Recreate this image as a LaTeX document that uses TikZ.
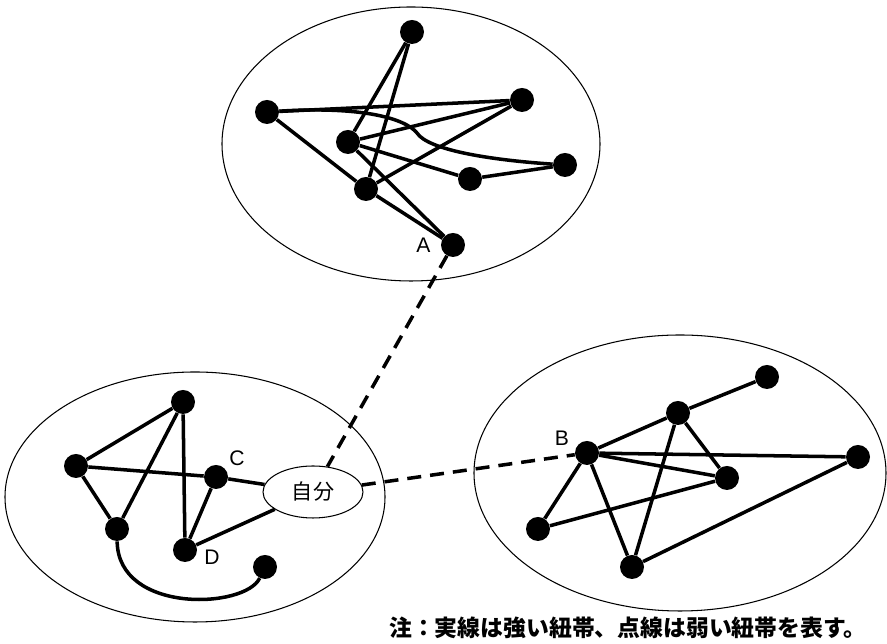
\documentclass[tikz,border=0pt]{standalone}
\usepackage{fontspec}
\setsansfont{Liberation Sans}
\newfontfamily\jp{Noto Sans CJK JP}
\usetikzlibrary{shapes.geometric, positioning}

\begin{document}
\begin{tikzpicture}[
    dot/.style={circle, fill=black, inner sep=0pt, minimum size=0.48cm},
    tie/.style={line width=2pt},
    weak/.style={tie, dash pattern=on 0.28cm off 0.18cm},
    group/.style={line width=0.6pt},
    lbl/.style={font=\sffamily\large}
  ]
  \useasboundingbox (0,0) rectangle (17.74,12.88);

  % Groups
  \draw[group] (8.22,10.00) ellipse (3.78 and 2.74);
  \draw[group] (3.90,2.94) ellipse (3.80 and 2.50);
  \draw[group] (13.60,3.42) ellipse (4.12 and 2.76);

  % Upper group
  \node[dot] (u1) at (8.24,12.24) {};
  \node[dot] (u2) at (5.34,10.64) {};
  \node[dot] (u3) at (10.44,10.88) {};
  \node[dot] (u4) at (6.96,10.04) {};
  \node[dot] (u5) at (11.30,9.58) {};
  \node[dot] (u6) at (9.40,9.30) {};
  \node[dot] (u7) at (7.32,9.10) {};
  \node[dot] (a) at (9.06,7.98) {};
  \node[lbl, left=0.08cm of a] (alab) {A};

  \draw[tie] (u1) -- (u4);
  \draw[tie] (u1) -- (u7);
  \draw[tie] (u2) -- (u3);
  \draw[tie] (u2) -- (u7);
  \draw[tie] (u4) -- (u3);
  \draw[tie] (u7) -- (u3);
  \draw[tie] (u4) -- (u6);
  \draw[tie] (u6) -- (u5);
  \draw[tie] (u7) -- (a);
  \draw[tie] (u4) -- (a);
  \draw[tie] (u2) .. controls (7.20,10.76) and (8.10,10.52) .. (8.34,10.22)
                  .. controls (8.56,9.88) and (9.80,9.68) .. (u5);

  % Own group
  \node[ellipse, draw, line width=0.6pt, minimum width=2.0cm, minimum height=1.04cm,
        inner sep=0pt, font=\jp\large] (self) at (6.26,3.04) {自分};
  \node[dot] (l1) at (3.66,4.84) {};
  \node[dot] (l2) at (1.52,3.56) {};
  \node[dot] (c) at (4.32,3.34) {};
  \node[dot] (l3) at (2.34,2.30) {};
  \node[dot] (d) at (3.70,1.88) {};
  \node[dot] (l5) at (5.30,1.54) {};
  \node[lbl] (clab) at (4.74,3.72) {C};
  \node[lbl] (dlab) at (4.24,1.74) {D};

  \draw[tie] (l1) -- (l2);
  \draw[tie] (l1) -- (l3);
  \draw[tie] (l1) -- (d);
  \draw[tie] (l2) -- (c);
  \draw[tie] (l2) -- (l3);
  \draw[tie] (c) -- (self);
  \draw[tie] (c) -- (d);
  \draw[tie] (d) -- (self);
  \draw[tie] (l3) .. controls (2.36,0.60) and (4.90,0.70) .. (l5);

  % Right group
  \node[dot] (b) at (11.74,3.82) {};
  \node[dot] (r1) at (13.56,4.62) {};
  \node[dot] (r2) at (15.34,5.34) {};
  \node[dot] (r3) at (17.16,3.74) {};
  \node[dot] (r4) at (14.54,3.32) {};
  \node[dot] (r5) at (10.76,2.30) {};
  \node[dot] (r6) at (12.64,1.54) {};
  \node[lbl] (blab) at (11.24,4.12) {B};

  \draw[tie] (b) -- (r1);
  \draw[tie] (r1) -- (r2);
  \draw[tie] (b) -- (r3);
  \draw[tie] (b) -- (r4);
  \draw[tie] (r1) -- (r4);
  \draw[tie] (r1) -- (r6);
  \draw[tie] (b) -- (r5);
  \draw[tie] (b) -- (r6);
  \draw[tie] (r5) -- (r4);
  \draw[tie] (r6) -- (r3);

  % Weak ties
  \draw[weak] (a) -- (self);
  \draw[weak] (self) -- (b);

  \node[font=\jp\bfseries\fontsize{13pt}{15pt}\selectfont] (note) at (12.56,0.32)
    {注：実線は強い紐帯、点線は弱い紐帯を表す。};
\end{tikzpicture}
\end{document}
